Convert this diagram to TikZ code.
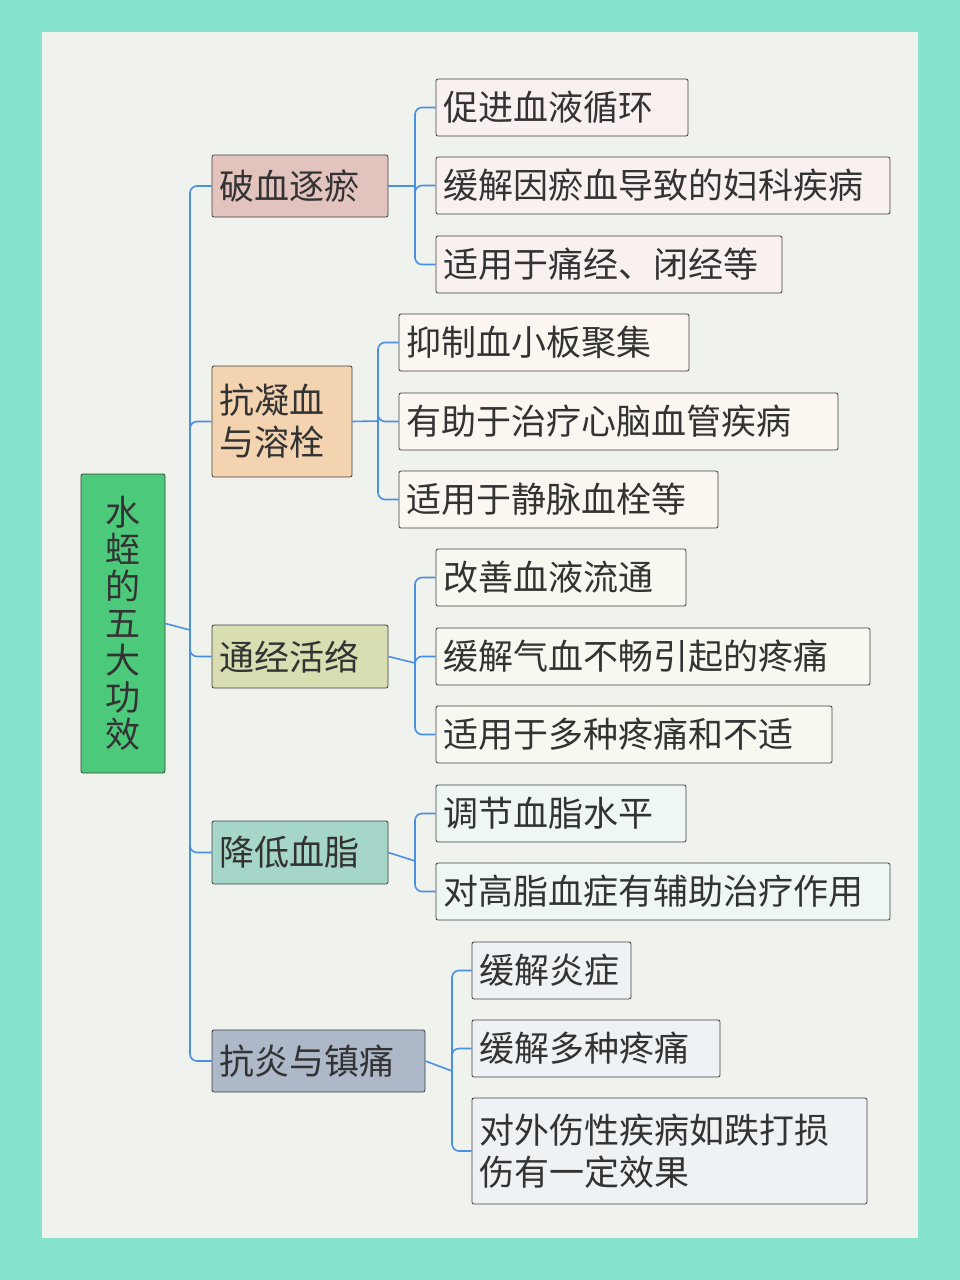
\documentclass[tikz,border=0pt]{standalone}
\usepackage{fontspec}
\setmainfont{Noto Sans CJK SC}
\definecolor{outer}{HTML}{86E3CE}
\definecolor{inner}{HTML}{F0F2EE}
\definecolor{conn}{HTML}{4A90E2}
\definecolor{rootc}{HTML}{4CC97A}
\definecolor{ca}{HTML}{E3C3BE}\definecolor{la}{HTML}{F8F1EF}
\definecolor{cb}{HTML}{F3D3B0}\definecolor{lb}{HTML}{FBF6EF}
\definecolor{cc}{HTML}{D9DDB2}\definecolor{lc}{HTML}{F7F8EF}
\definecolor{cd}{HTML}{A6D5C9}\definecolor{ld}{HTML}{EEF7F4}
\definecolor{ce}{HTML}{ADB8C8}\definecolor{le}{HTML}{EFF2F5}
\newcommand{\bx}[7]{%
\pgfmathsetmacro{\cx}{(#2+#4)/2}\pgfmathsetmacro{\cy}{(#3+#5)/2}%
\pgfmathsetmacro{\ww}{#4-#2}\pgfmathsetmacro{\hh}{#5-#3}\pgfmathsetmacro{\tw}{#4-#2-15}%
\node[box,fill=#6,minimum width=\ww pt,minimum height=\hh pt,text width=\tw pt] (#1) at (\cx,\cy) {#7};}
\begin{document}
\begin{tikzpicture}[x=1pt,y=-1pt,
 box/.style={draw=black!75,line width=0.8pt,rounded corners=2pt,inner xsep=7.5pt,inner ysep=0pt,align=left,font=\fontsize{35}{42}\selectfont,text=black!80},
 cn/.style={draw=conn,line width=1.6pt,rounded corners=7pt}]
\fill[outer] (0,0) rectangle (960,1280);
\fill[inner] (42,32) rectangle (918,1238);
\node[draw=black!75,line width=0.8pt,rounded corners=2pt,fill=rootc,minimum width=84pt,minimum height=299pt,inner sep=0pt,align=center,font=\fontsize{35}{37}\selectfont,text=black!80] (root) at (123,623.5) {水\\蛭\\的\\五\\大\\功\\效};
\bx{a}{212}{155}{388}{217}{ca}{破血逐瘀}
\bx{b}{212}{366}{352}{477}{cb}{抗凝血\\与溶栓}
\bx{c}{212}{625}{388}{688}{cc}{通经活络}
\bx{d}{212}{821}{388}{884}{cd}{降低血脂}
\bx{e}{212}{1030}{425}{1092}{ce}{抗炎与镇痛}
\bx{a1}{436}{79}{688}{136}{la}{促进血液循环}
\bx{a2}{436}{157}{890}{214}{la}{缓解因瘀血导致的妇科疾病}
\bx{a3}{436}{236}{782}{293}{la}{适用于痛经、闭经等}
\bx{b1}{399}{314}{689}{371}{lb}{抑制血小板聚集}
\bx{b2}{399}{393}{838}{450}{lb}{有助于治疗心脑血管疾病}
\bx{b3}{399}{471}{718}{528}{lb}{适用于静脉血栓等}
\bx{c1}{436}{549}{686}{606}{lc}{改善血液流通}
\bx{c2}{436}{628}{870}{685}{lc}{缓解气血不畅引起的疼痛}
\bx{c3}{436}{706}{832}{763}{lc}{适用于多种疼痛和不适}
\bx{d1}{436}{785}{686}{842}{ld}{调节血脂水平}
\bx{d2}{436}{863}{890}{920}{ld}{对高脂血症有辅助治疗作用}
\bx{e1}{472}{942}{631}{999}{le}{缓解炎症}
\bx{e2}{472}{1020}{720}{1077}{le}{缓解多种疼痛}
\bx{e3}{472}{1098}{867}{1204}{le}{对外伤性疾病如跌打损\\伤有一定效果}
\coordinate (t) at (190,630);
\draw[cn] (root.east) -- (t);
\foreach \n in {a,b,c,d,e} \draw[cn] (t) |- (\n.west);
\coordinate (ta) at (415,186);
\draw[cn] (a.east) -- (ta);
\foreach \n in {a1,a2,a3} \draw[cn] (ta) |- (\n.west);
\coordinate (tb) at (378,421);
\draw[cn] (b.east) -- (tb);
\foreach \n in {b1,b2,b3} \draw[cn] (tb) |- (\n.west);
\coordinate (tc) at (415,663);
\draw[cn] (c.east) -- (tc);
\foreach \n in {c1,c2,c3} \draw[cn] (tc) |- (\n.west);
\coordinate (td) at (415,861);
\draw[cn] (d.east) -- (td);
\foreach \n in {d1,d2} \draw[cn] (td) |- (\n.west);
\coordinate (te) at (452,1071);
\draw[cn] (e.east) -- (te);
\foreach \n in {e1,e2,e3} \draw[cn] (te) |- (\n.west);
\end{tikzpicture}
\end{document}
